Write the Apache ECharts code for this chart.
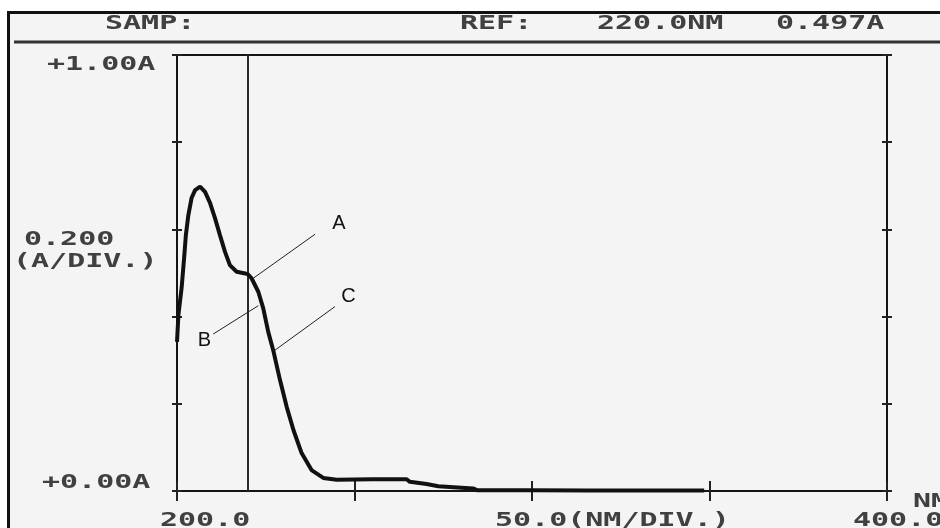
<!DOCTYPE html>
<html>
<head>
<meta charset="utf-8">
<script src="https://cdn.jsdelivr.net/npm/echarts@6/dist/echarts.min.js"></script>
<style>
html,body{margin:0;padding:0;background:#fff;}
#chart{width:940px;height:528px;}
</style>
</head>
<body>
<div id="chart"></div>
<script>
// ---- data ----
var wavelength = [200.0, 200.4, 201.3, 202.0, 202.5, 203.2, 204.1, 205.1, 206.5, 207.9, 209.3, 210.7, 212.1, 213.5, 214.9, 216.8, 219.2, 220.0, 221.0, 222.9, 224.3, 225.7, 227.1, 229.0, 230.9, 232.8, 235.1, 237.9, 241.2, 245.0, 255.0, 264.7, 265.6, 270.3, 273.6, 283.4, 284.5, 300.0, 316.0, 330.0, 348.5];
var absorbance = [0.342, 0.404, 0.466, 0.534, 0.587, 0.633, 0.672, 0.690, 0.698, 0.686, 0.661, 0.626, 0.587, 0.549, 0.518, 0.503, 0.499, 0.497, 0.488, 0.457, 0.419, 0.365, 0.323, 0.255, 0.193, 0.140, 0.087, 0.048, 0.030, 0.026, 0.027, 0.027, 0.021, 0.016, 0.011, 0.006, 0.002, 0.002, 0.001, 0.001, 0.001];
var cursorNm = 220.0;
var headerTexts = ['SAMP:', 'REF:', '220.0NM', '0.497A'];
var yTickLabels = ['+1.00A', '0.200', '(A/DIV.)', '+0.00A'];
var xTickLabels = ['200.0', '50.0(NM/DIV.)', '400.0', 'NM'];
var annoNames = ['A', 'B', 'C'];
var annoLineStart = [[221.5, 0.488], [210.2, 0.360], [227.6, 0.323]];
var annoLineEnd = [[238.9, 0.589], [222.9, 0.425], [244.5, 0.423]];
var annoLabelPos = [[245.6, 0.614], [207.7, 0.346], [248.3, 0.446]];

// ---- build ----
var seriesData = wavelength.map(function (w, i) { return [w, absorbance[i]]; });
var markLines = [{ xAxis: cursorNm, lineStyle: { color: '#2a2a2a', width: 2, type: 'solid' } }];
for (var i = 0; i < annoNames.length; i++) {
  markLines.push([{ coord: annoLineStart[i], lineStyle: { color: '#222', width: 1, type: 'solid' } }, { coord: annoLineEnd[i] }]);
}
var markPoints = annoNames.map(function (n, i) { return { name: n, coord: annoLabelPos[i] }; });

var monoFont = 'bold 20px "DejaVu Sans Mono"';
var textFill = '#404040';
function monoText(str, x, y) {
  return { type: 'text', x: x, y: y, scaleX: 1.5, z: 20,
    style: { text: str, font: monoFont, fill: textFill, textAlign: 'left', verticalAlign: 'middle' } };
}

var chart = echarts.init(document.getElementById('chart'), null, { renderer: 'canvas' });
var tickAxisCommon = {
  axisLine: { show: false },
  axisTick: { show: true, inside: true, length: 10, lineStyle: { color: '#222', width: 2 } },
  axisLabel: { show: false },
  splitLine: { show: false },
  offset: 5
};
chart.setOption({
  backgroundColor: '#f4f4f4',
  animation: false,
  grid: { left: 177, top: 55, width: 710, height: 436, show: true, borderColor: '#151515', borderWidth: 2, backgroundColor: 'transparent' },
  xAxis: [
    Object.assign({ type: 'value', min: 200, max: 400, interval: 50, position: 'bottom' }, tickAxisCommon),
    Object.assign({ type: 'value', min: 200, max: 400, interval: 50, position: 'top' }, tickAxisCommon)
  ],
  yAxis: [
    Object.assign({ type: 'value', min: 0, max: 1, interval: 0.2, position: 'left' }, tickAxisCommon),
    Object.assign({ type: 'value', min: 0, max: 1, interval: 0.2, position: 'right' }, tickAxisCommon)
  ],
  series: [{
    type: 'line',
    xAxisIndex: 0, yAxisIndex: 0,
    data: seriesData,
    showSymbol: false,
    smooth: false,
    lineStyle: { color: '#111', width: 4 },
    z: 5,
    markLine: {
      silent: true, symbol: ['none', 'none'], label: { show: false },
      lineStyle: { type: 'solid' },
      data: markLines
    },
    markPoint: {
      silent: true, symbol: 'circle', symbolSize: 1,
      itemStyle: { color: 'rgba(0,0,0,0)' },
      label: { show: true, position: 'inside', formatter: '{b}', color: '#111', fontSize: 20, fontFamily: 'Liberation Sans' },
      data: markPoints
    }
  }],
  graphic: [
    { type: 'rect', shape: { x: 0, y: 0, width: 940, height: 11 }, style: { fill: '#ffffff' }, z: 1 },
    { type: 'rect', shape: { x: 0, y: 0, width: 7, height: 528 }, style: { fill: '#ffffff' }, z: 1 },
    { type: 'rect', shape: { x: 8.5, y: 12.5, width: 960, height: 540 }, style: { fill: 'none', stroke: '#111', lineWidth: 3 }, z: 2 },
    { type: 'line', shape: { x1: 14, y1: 42, x2: 940, y2: 42 }, style: { stroke: '#333', lineWidth: 3 }, z: 2 },
    monoText(headerTexts[0], 105, 24),
    monoText(headerTexts[1], 460, 24),
    monoText(headerTexts[2], 597, 24),
    monoText(headerTexts[3], 776, 24),
    monoText(yTickLabels[0], 47, 65),
    monoText(yTickLabels[1], 24, 240),
    monoText(yTickLabels[2], 13, 262),
    monoText(yTickLabels[3], 42, 483),
    monoText(xTickLabels[0], 160, 521),
    monoText(xTickLabels[1], 495, 521),
    monoText(xTickLabels[2], 853, 521),
    monoText(xTickLabels[3], 913, 502)
  ]
});
</script>
</body>
</html>
